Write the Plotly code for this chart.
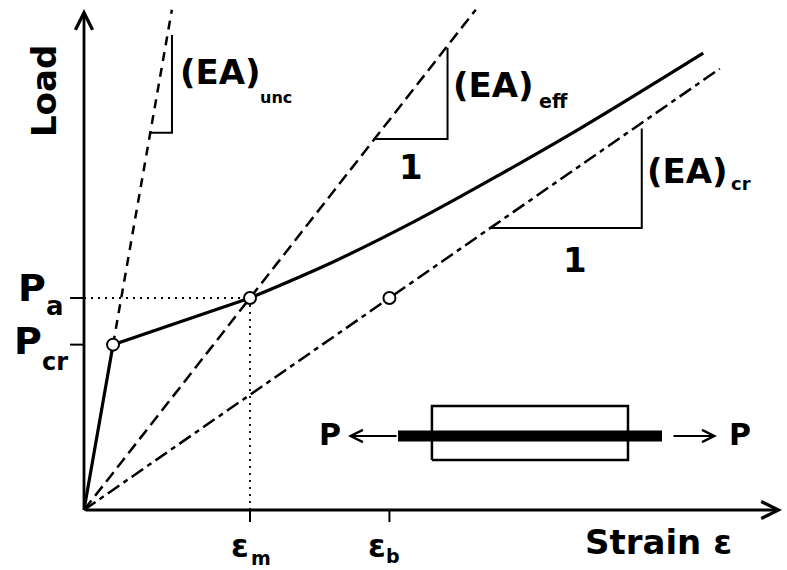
import plotly.graph_objects as go

# ---------------- data (schematic units: eps_m = 1, P_a = 1) ----------------
eps_cr, P_cr = 0.175, 0.78          # cracking point
eps_m, P_a = 1.0, 1.0               # member response at applied load
eps_b = 1.84                        # bare-bar strain at P_a

# member load-strain response
strain_pre = [0.0, 0.175, 1.0]
load_pre = [0.0, 0.78, 1.0]
strain_post = [1.0, 1.5, 2.0, 2.5, 3.0, 3.73]
load_post = [1.0, 1.17, 1.365, 1.58, 1.805, 2.155]

# stiffness lines (slopes from the marked points)
EA_unc = P_cr / eps_cr
EA_eff = P_a / eps_m
EA_cr = P_a / eps_b
unc_end_load = 2.36
eff_end_strain = 2.36
cr_end_strain = 3.83

# slope triangles
tri_unc_x, tri_unc_y = [0.40, 0.53, 0.53], [1.78, 1.78, 2.24]
tri_eff_x, tri_eff_y = [1.75, 2.19, 2.19], [1.75, 1.75, 2.18]
tri_cr_x, tri_cr_y = [2.45, 3.36, 3.36], [1.33, 1.33, 1.80]

# axis extents
x_axis_end = 4.205
y_axis_end = 2.363

# inset (bar in tube)
box_x = [2.096, 3.277]
box_y = [0.236, 0.491]
bar_x = [1.892, 3.482]
bar_y = 0.349

FONT = "DejaVu Sans"
BLACK = "#000000"

fig = go.Figure()

def line(x, y, width=2.5, dash="solid", shape="linear"):
    fig.add_trace(go.Scatter(x=x, y=y, mode="lines",
                             line=dict(color=BLACK, width=width, dash=dash, shape=shape),
                             hoverinfo="skip", showlegend=False))

# dotted guides
line([0, eps_m], [P_a, P_a], width=1.8, dash="2px,5px")
line([eps_m, eps_m], [0, P_a], width=1.8, dash="2px,5px")

# stiffness lines
line([eps_cr, unc_end_load / EA_unc], [P_cr, unc_end_load], width=2.5, dash="9px,7px")
line([0, eff_end_strain], [0, EA_eff * eff_end_strain], width=2.5, dash="12px,6px")
line([0, cr_end_strain], [0, EA_cr * cr_end_strain], width=2.5, dash="14px,5px,5px,5px")

# member response
line(strain_pre, load_pre, width=3.2)
line(strain_post, load_post, width=3.2, shape="spline")

# triangles
line(tri_unc_x, tri_unc_y, width=2)
line(tri_eff_x, tri_eff_y, width=2)
line(tri_cr_x, tri_cr_y, width=2)

# ticks
for yv in [P_a, P_cr]:
    line([-0.084, 0], [yv, yv], width=2)
for xv in [eps_m, eps_b]:
    line([xv, xv], [0, -0.057], width=2)

# inset
line([box_x[0], box_x[1], box_x[1], box_x[0], box_x[0]],
     [box_y[0], box_y[0], box_y[1], box_y[1], box_y[0]], width=2.5)
line(bar_x, [bar_y, bar_y], width=11)

# marked points
fig.add_trace(go.Scatter(x=[eps_cr, eps_m, eps_b], y=[P_cr, P_a, P_a], mode="markers",
                         marker=dict(symbol="circle", size=12, color="white",
                                     line=dict(color=BLACK, width=2)),
                         hoverinfo="skip", showlegend=False))

ann = []
def arrow(x0, y0, x1, y1, width=2.8, size=1.2):
    ann.append(dict(x=x1, y=y1, ax=x0, ay=y0, xref="x", yref="y", axref="x", ayref="y",
                    text="", showarrow=True, arrowhead=5, arrowwidth=width,
                    arrowsize=size, arrowcolor=BLACK, standoff=0, startstandoff=0))

def txt(x, y, s, size, angle=0):
    ann.append(dict(x=x, y=y, xref="x", yref="y", text=s, showarrow=False,
                    xanchor="center", yanchor="middle", textangle=angle,
                    font=dict(family=FONT, size=size, color=BLACK, weight="bold")))

# axes
arrow(0, 0, x_axis_end, 0)
arrow(0, 0, 0, y_axis_end)
# inset arrows
arrow(bar_x[0], bar_y, 1.590, bar_y, width=2.2, size=1.1)
arrow(3.542, bar_y, 3.813, bar_y, width=2.2, size=1.1)

# axis titles
txt(-0.241, 1.976, "Load", 34, angle=-90)
txt(3.458, -0.150, "Strain ε", 34)

# y tick labels
txt(-0.313, 1.045, "P", 38)
txt(-0.175, 0.960, "a", 26)
txt(-0.337, 0.795, "P", 38)
txt(-0.175, 0.700, "cr", 24)

# x tick labels
txt(0.940, -0.170, "ε", 32)
txt(1.068, -0.226, "m", 19)
txt(1.765, -0.170, "ε", 32)
txt(1.864, -0.215, "b", 19)

# stiffness labels
txt(0.825, 2.065, "(EA)", 34)
txt(1.158, 1.948, "unc", 16)
txt(2.464, 2.005, "(EA)", 34)
txt(2.826, 1.929, "eff", 19)
txt(1.970, 1.620, "1", 34)
txt(3.633, 1.600, "(EA)", 34)
txt(3.960, 1.538, "cr", 18)
txt(2.958, 1.177, "1", 34)

# inset labels
txt(1.482, bar_y + 0.005, "P", 30)
txt(3.952, bar_y + 0.005, "P", 30)

fig.update_layout(
    width=787, height=570,
    margin=dict(l=0, r=0, t=0, b=0),
    paper_bgcolor="white", plot_bgcolor="white",
    xaxis=dict(range=[-84 / 166, 703 / 166], visible=False, fixedrange=True),
    yaxis=dict(range=[-60 / 212, 510 / 212], visible=False, fixedrange=True),
    annotations=ann,
    showlegend=False,
)

fig.write_html("out.html", config={"displayModeBar": False},
               post_script="document.body.style.margin='0';document.body.style.overflow='hidden';")
